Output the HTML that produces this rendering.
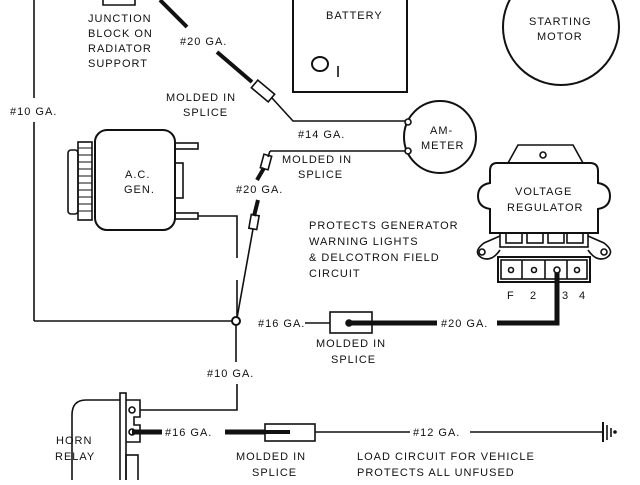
<!DOCTYPE html>
<html><head><style>
body{margin:0;background:#fff}
svg text{font-family:"Liberation Sans",sans-serif;font-size:11px;letter-spacing:1px;fill:#111}
</style></head><body>
<svg width="640" height="480" viewBox="0 0 640 480" xmlns="http://www.w3.org/2000/svg" stroke="#111" fill="none" stroke-width="1.6">
<!-- left #10 wire -->
<line x1="34" y1="0" x2="34" y2="98"/>
<line x1="34" y1="122" x2="34" y2="321"/>
<line x1="34" y1="321" x2="232" y2="321"/>
<!-- junction block -->
<polyline points="103,0 103,5 135,5 135,0"/>
<!-- #20 diagonal -->
<line x1="160" y1="0" x2="187" y2="27" stroke-width="4"/>
<line x1="217" y1="52" x2="252" y2="82" stroke-width="4"/>
<rect x="-11" y="-5" width="22" height="10" transform="translate(263,91) rotate(40)"/>
<polyline points="272,98 293,121 405,121"/>
<!-- ammeter -->
<circle cx="440" cy="137" r="36" stroke-width="2"/>
<circle cx="408" cy="122" r="3" fill="#fff"/>
<circle cx="408" cy="151" r="3" fill="#fff"/>
<line x1="270" y1="151" x2="405" y2="151"/>
<line x1="270" y1="151" x2="268" y2="157"/>
<rect x="-4" y="-7" width="8" height="14" transform="translate(266,162) rotate(15)"/>
<line x1="264" y1="168" x2="257" y2="180" stroke-width="4"/>
<line x1="258" y1="200" x2="254" y2="216" stroke-width="4"/>
<rect x="-4" y="-7" width="8" height="14" transform="translate(254,222) rotate(10)"/>
<line x1="253" y1="229" x2="237" y2="318"/>
<!-- AC gen -->
<rect x="95" y="130" width="80" height="100" rx="12" stroke-width="2"/>
<rect x="78" y="142" width="14" height="78"/>
<rect x="68" y="150" width="10" height="64" rx="3"/>
<g stroke-width="1">
<line x1="78" y1="148" x2="92" y2="148"/><line x1="78" y1="155" x2="92" y2="155"/><line x1="78" y1="162" x2="92" y2="162"/><line x1="78" y1="169" x2="92" y2="169"/><line x1="78" y1="176" x2="92" y2="176"/><line x1="78" y1="183" x2="92" y2="183"/><line x1="78" y1="190" x2="92" y2="190"/><line x1="78" y1="197" x2="92" y2="197"/><line x1="78" y1="204" x2="92" y2="204"/><line x1="78" y1="211" x2="92" y2="211"/></g>
<rect x="175" y="143" width="23" height="6"/>
<rect x="175" y="163" width="8" height="35"/>
<rect x="175" y="213" width="23" height="6"/>
<polyline points="198,216 237,216 237,258"/>
<line x1="237" y1="280" x2="237" y2="318"/>
<!-- junction -->
<circle cx="236" cy="321" r="4" fill="#fff" stroke-width="2"/>
<line x1="236" y1="325" x2="236" y2="362"/>
<polyline points="237,384 237,410 140,410"/>
<line x1="305" y1="323" x2="330" y2="323"/>
<rect x="330" y="312" width="42" height="21"/>
<circle cx="349" cy="323" r="3" fill="#111"/>
<line x1="349" y1="323" x2="437" y2="323" stroke-width="5"/>
<polyline points="497,323 557,323 557,270" stroke-width="5"/>
<!-- regulator -->
<polygon points="508,163 518,145 573,145 583,163"/>
<circle cx="543" cy="155" r="3"/>
<path d="M497,163 H590 Q598,163 598,171 V183 Q610,185 610,196 Q610,207 598,209 V233 H490 V209 Q478,207 478,196 Q478,185 490,183 V171 Q490,163 497,163 Z" stroke-width="2"/>
<rect x="500" y="233" width="88" height="14"/>
<rect x="506" y="233" width="16" height="10"/><rect x="527" y="233" width="16" height="10"/><rect x="548" y="233" width="16" height="10"/><rect x="567" y="233" width="16" height="10"/>
<path d="M500,236 L484,243 Q472,252 482,258 Q492,262 500,250" />
<circle cx="482" cy="252" r="3"/>
<path d="M588,236 L604,243 Q616,252 606,258 Q596,262 588,250"/>
<circle cx="604" cy="252" r="3"/>
<rect x="498" y="257" width="92" height="25" stroke-width="2"/>
<rect x="501" y="260" width="86" height="19"/>
<line x1="522" y1="260" x2="522" y2="279"/><line x1="545" y1="260" x2="545" y2="279"/><line x1="567" y1="260" x2="567" y2="279"/>
<circle cx="511" cy="270" r="2.5"/><circle cx="534" cy="270" r="2.5"/><circle cx="557" cy="270" r="3" fill="#fff"/><circle cx="577" cy="270" r="2.5"/>
<!-- battery -->
<polyline points="293,0 293,92 407,92 407,0" stroke-width="2"/>
<ellipse cx="320" cy="64" rx="8" ry="7" stroke-width="2"/>
<line x1="338" y1="66" x2="338" y2="77"/>
<!-- starting motor -->
<circle cx="561" cy="27" r="58" stroke-width="2"/>
<!-- horn relay -->
<path d="M72,480 V415 Q72,400 86,400 H120"/>
<rect x="120" y="393" width="6" height="90"/>
<path d="M126,400 H140 V417 H134 V425 H140 V442 H126"/>
<circle cx="132" cy="410" r="3"/>
<circle cx="132" cy="432" r="3"/>
<rect x="126" y="455" width="12" height="30"/>
<line x1="132" y1="432" x2="162" y2="432" stroke-width="5"/>
<line x1="225" y1="432" x2="265" y2="432" stroke-width="5"/>
<rect x="265" y="424" width="50" height="17"/>
<line x1="265" y1="432" x2="290" y2="432" stroke-width="4"/>
<line x1="315" y1="432" x2="410" y2="432"/>
<line x1="470" y1="432" x2="603" y2="432"/>
<line x1="603" y1="422" x2="603" y2="442" stroke-width="2"/>
<line x1="607" y1="425" x2="607" y2="440"/>
<line x1="611" y1="428" x2="611" y2="437"/>
<circle cx="615" cy="432" r="1" fill="#111"/>
</svg>
<svg width="640" height="480" style="position:absolute;left:0;top:0" xmlns="http://www.w3.org/2000/svg">
<text x="88" y="22">JUNCTION</text>
<text x="88" y="37">BLOCK ON</text>
<text x="88" y="52">RADIATOR</text>
<text x="88" y="67">SUPPORT</text>
<text x="180" y="45">#20 GA.</text>
<text x="166" y="101">MOLDED IN</text>
<text x="183" y="116">SPLICE</text>
<text x="10" y="115">#10 GA.</text>
<text x="125" y="178">A.C.</text>
<text x="124" y="193">GEN.</text>
<text x="298" y="138">#14 GA.</text>
<text x="282" y="163">MOLDED IN</text>
<text x="298" y="178">SPLICE</text>
<text x="236" y="193">#20 GA.</text>
<text x="430" y="134">AM-</text>
<text x="421" y="149">METER</text>
<text x="326" y="19">BATTERY</text>
<text x="529" y="25">STARTING</text>
<text x="537" y="40">MOTOR</text>
<text x="515" y="195">VOLTAGE</text>
<text x="507" y="211">REGULATOR</text>
<text x="309" y="229">PROTECTS GENERATOR</text>
<text x="309" y="245">WARNING LIGHTS</text>
<text x="309" y="261">&amp; DELCOTRON FIELD</text>
<text x="309" y="277">CIRCUIT</text>
<text x="507" y="299">F</text><text x="530" y="299">2</text><text x="562" y="299">3</text><text x="579" y="299">4</text>
<text x="258" y="327">#16 GA.</text>
<text x="441" y="327">#20 GA.</text>
<text x="316" y="347">MOLDED IN</text>
<text x="331" y="363">SPLICE</text>
<text x="207" y="377">#10 GA.</text>
<text x="165" y="436">#16 GA.</text>
<text x="413" y="436">#12 GA.</text>
<text x="56" y="444">HORN</text>
<text x="55" y="460">RELAY</text>
<text x="236" y="460">MOLDED IN</text>
<text x="252" y="476">SPLICE</text>
<text x="357" y="460">LOAD CIRCUIT FOR VEHICLE</text>
<text x="357" y="476">PROTECTS ALL UNFUSED</text>
</svg>
</body></html>
